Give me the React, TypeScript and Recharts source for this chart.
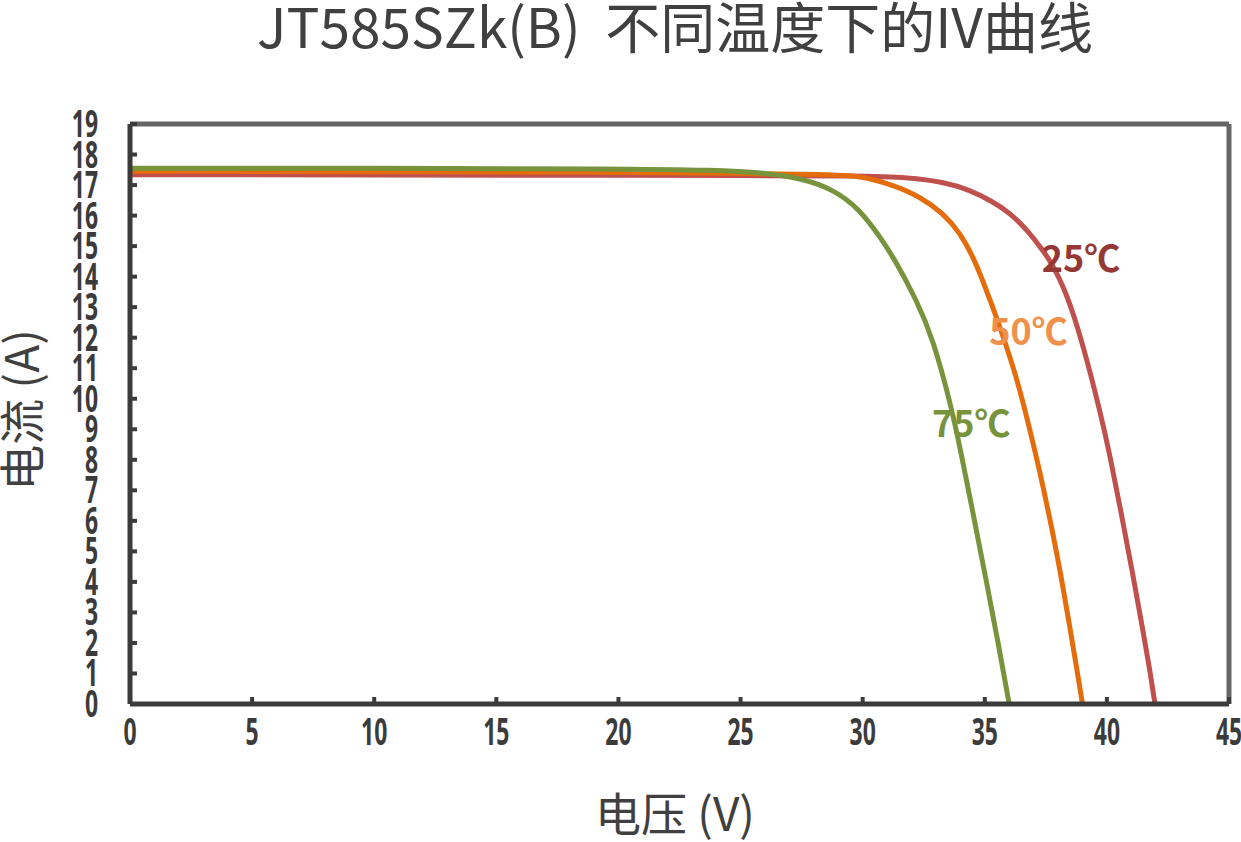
import { LineChart, Line, XAxis, YAxis, ReferenceLine, ReferenceDot } from "recharts";

const volts25 = [0, 10, 20, 25, 29.89, 31.94, 33.29, 34.4, 35.34, 36.04, 36.73, 37.26, 37.67, 38.37, 39.03, 39.72, 40.15, 40.6, 41.05, 41.5, 41.75, 41.97];
const amps25 = [17.34, 17.33, 17.32, 17.31, 17.3, 17.25, 17.1, 16.84, 16.45, 16.08, 15.53, 14.98, 14.55, 13.45, 11.75, 9.6, 8.05, 6.2, 4.3, 2.3, 1.15, 0];

const volts50 = [0, 10, 20, 25, 28.5, 29.89, 31.25, 32.35, 33.29, 33.99, 34.52, 34.93, 35.63, 36.32, 36.72, 37.26, 37.67, 38.08, 38.41, 38.78, 39.0];
const amps50 = [17.45, 17.44, 17.42, 17.39, 17.34, 17.31, 17.0, 16.62, 16.08, 15.43, 14.65, 13.85, 12.35, 10.65, 9.4, 7.6, 6.05, 4.4, 2.85, 1.1, 0];

const volts75 = [0, 10, 20, 24, 26, 27.44, 28.79, 29.89, 30.71, 31.25, 32.23, 32.88, 33.58, 33.99, 34.58, 35.07, 35.55, 36.0];
const amps75 = [17.55, 17.55, 17.53, 17.49, 17.4, 17.23, 16.87, 16.2, 15.3, 14.65, 13.2, 11.95, 9.9, 8.4, 6.0, 4.0, 2.0, 0];

const xTicks = [0, 5, 10, 15, 20, 25, 30, 35, 40, 45];
const yTicks = [0, 1, 2, 3, 4, 5, 6, 7, 8, 9, 10, 11, 12, 13, 14, 15, 16, 17, 18, 19];

const curveNames = ["25℃", "50℃", "75℃"];
const labelVolts = [37.33, 35.18, 32.84];
const labelAmps = [14.15, 11.76, 8.75];

const lineColors = ["#c0504d", "#e46c0a", "#77933c"];
const labelColors = ["#953735", "#f0904a", "#77933c"];

const toPoints = (v: number[], a: number[]) => v.map((x, k) => ({ v: x, i: a[k] }));
const series = [toPoints(volts25, amps25), toPoints(volts50, amps50), toPoints(volts75, amps75)];

const tickFont = "'Noto Sans', 'DejaVu Sans', sans-serif";
const cjkFont = "'Noto Sans CJK SC', 'Noto Sans', sans-serif";

const YTick = ({ x, y, payload }: any) => (
  <g transform={`translate(${x} ${y}) scale(0.62 1)`}>
    <text x={0} y={13} textAnchor="end" fontFamily={tickFont} fontWeight={700} fontSize={37} fill="#3b3b3b">
      {payload.value}
    </text>
  </g>
);

const XTick = ({ x, y, payload }: any) => (
  <g transform={`translate(${x} ${y + 45}) scale(0.62 1)`}>
    <text x={0} y={0} textAnchor="middle" fontFamily={tickFont} fontWeight={700} fontSize={37} fill="#3b3b3b">
      {payload.value}
    </text>
  </g>
);

const curveLabel = (k: number) => (p: any) => (
  <text x={p.cx} y={p.cy} fontFamily={cjkFont} fontWeight={700} fontSize={36} fill={labelColors[k]}>
    {curveNames[k]}
  </text>
);

export default function App() {
  return (
    <div style={{ position: "absolute", left: 0, top: 0, width: 1241, height: 842, background: "#fff" }}>
      <LineChart width={1241} height={842} margin={{ top: 124, right: 12, bottom: 88, left: 70 }}>
        <XAxis
          dataKey="v"
          type="number"
          domain={[0, 45]}
          ticks={xTicks}
          interval={0}
          height={50}
          tick={<XTick />}
          tickSize={-7}
          tickMargin={3}
          axisLine={{ stroke: "#3b3b3b", strokeWidth: 5 }}
          tickLine={{ stroke: "#3b3b3b", strokeWidth: 4 }}
          allowDuplicatedCategory={false}
        />
        <YAxis
          type="number"
          domain={[0, 19]}
          ticks={yTicks}
          interval={0}
          width={60}
          tick={<YTick />}
          tickSize={-7}
          tickMargin={39}
          axisLine={{ stroke: "#3b3b3b", strokeWidth: 5 }}
          tickLine={{ stroke: "#3b3b3b", strokeWidth: 4 }}
        />
        <ReferenceLine y={19} stroke="#666666" strokeWidth={5} />
        <ReferenceLine x={45} stroke="#666666" strokeWidth={5} />
        {series.map((d, k) => (
          <Line
            key={curveNames[k]}
            data={d}
            dataKey="i"
            type="basis"
            stroke={lineColors[k]}
            strokeWidth={5}
            dot={false}
            activeDot={false}
            isAnimationActive={false}
          />
        ))}
        {curveNames.map((n, k) => (
          <ReferenceDot key={n} x={labelVolts[k]} y={labelAmps[k]} r={0} shape={curveLabel(k)} />
        ))}
      </LineChart>
      <svg width={1241} height={842} style={{ position: "absolute", left: 0, top: 0, pointerEvents: "none" }}>
        <text x={675} y={48} textAnchor="middle" fontFamily={cjkFont} fontSize={55} fill="#404040" style={{ whiteSpace: "pre" }}>
          {"JT585SZk(B)  不同温度下的IV曲线"}
        </text>
        <text x={675} y={831} textAnchor="middle" fontFamily={cjkFont} fontSize={46} fill="#404040" style={{ whiteSpace: "pre" }}>
          电压 (V)
        </text>
        <text x={39} y={410} textAnchor="middle" fontFamily={cjkFont} fontSize={46} fill="#404040" transform="rotate(-90 39 410)" style={{ whiteSpace: "pre" }}>
          电流 (A)
        </text>
      </svg>
    </div>
  );
}
